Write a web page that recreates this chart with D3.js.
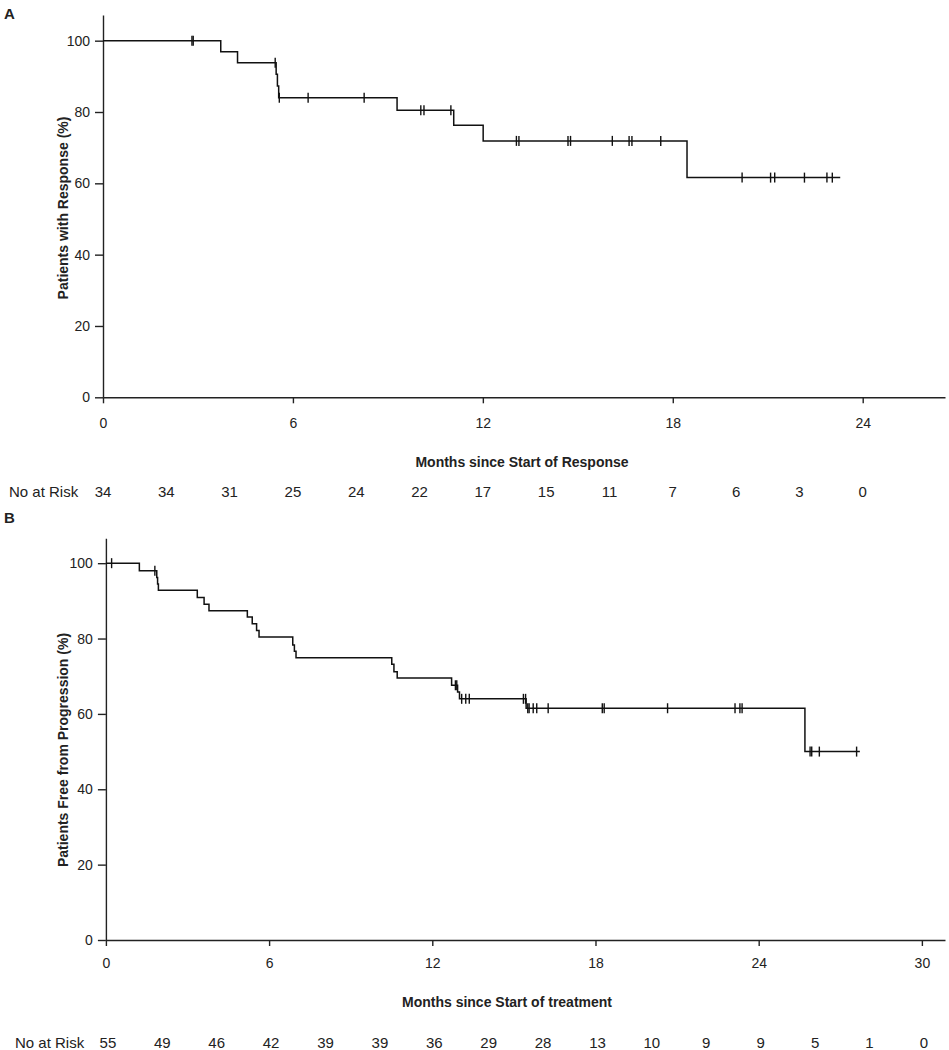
<!DOCTYPE html>
<html>
<head>
<meta charset="utf-8">
<script src="https://cdn.jsdelivr.net/npm/d3@7"></script>
<style>
  body { margin: 0; background: #fff; }
  svg text { font-family: "Liberation Sans", Arial, sans-serif; fill: #222; }
</style>
</head>
<body>
<div id="chart"></div>
<script>
// ---- data ----
// panel A : months since start of response
const respSteps = [[0, 100], [3.72, 96.9], [4.25, 93.8], [5.47, 90.6], [5.51, 87.3], [5.55, 84.0],
  [9.29, 80.5], [11.08, 76.3], [12.01, 71.9], [18.45, 61.6]];
const respEnd = 23.29;
const respCensor = [2.81, 2.85, 5.44, 5.57, 6.48, 8.25, 10.04, 10.14, 10.99, 13.06, 13.14, 14.69, 14.77,
  16.09, 16.62, 16.71, 17.62, 20.19, 21.09, 21.22, 22.16, 22.87, 23.04];
const respRiskTimes = [0, 2, 4, 6, 8, 10, 12, 14, 16, 18, 20, 22, 24];
const respRisk = [34, 34, 31, 25, 24, 22, 17, 15, 11, 7, 6, 3, 0];
const respXTicks = [0, 6, 12, 18, 24];

// panel B : months since start of treatment
const pfsSteps = [[0, 100], [1.23, 98.0], [1.87, 96.2], [1.9, 94.5], [1.93, 92.8], [3.36, 90.9], [3.61, 89.1],
  [3.79, 87.4], [5.2, 85.7], [5.38, 83.9], [5.54, 82.1], [5.63, 80.4], [6.87, 78.3], [6.93, 76.6], [6.99, 74.9],
  [10.51, 73.2], [10.59, 71.2], [10.71, 69.5], [12.71, 67.6], [12.93, 65.8], [13.0, 64.0], [15.45, 61.5],
  [25.7, 50.0]];
const pfsEnd = 27.72;
const pfsCensor = [0.21, 1.8, 12.85, 12.9, 13.08, 13.23, 13.36, 15.35, 15.43, 15.51, 15.56, 15.71, 15.84,
  16.26, 18.25, 18.32, 20.65, 23.13, 23.31, 23.39, 25.89, 25.95, 26.23, 27.6];
const pfsRiskTimes = [0, 2, 4, 6, 8, 10, 12, 14, 16, 18, 20, 22, 24, 26, 28, 30];
const pfsRisk = [55, 49, 46, 42, 39, 39, 36, 29, 28, 13, 10, 9, 9, 5, 1, 0];
const pfsXTicks = [0, 6, 12, 18, 24, 30];

const yTicks = [0, 20, 40, 60, 80, 100];

const svg = d3.select("#chart").append("svg")
    .attr("width", 949)
    .attr("height", 1050);

function survAt(steps, t) {
    let s = steps[0][1];
    steps.forEach(d => { if (d[0] <= t) s = d[1]; });
    return s;
}

function panel(cfg) {
    const x = d3.scaleLinear().domain(cfg.xDomain).range(cfg.xRange);
    const y = d3.scaleLinear().domain(cfg.yDomain).range(cfg.yRange);
    const g = svg.append("g");

    // axes
    const xAxis = g.append("g")
        .attr("transform", `translate(0,${y(0)})`)
        .call(d3.axisBottom(x).tickValues(cfg.xTicks).tickSize(6).tickSizeOuter(0).tickPadding(cfg.xPad));
    const yAxis = g.append("g")
        .attr("transform", `translate(${x(0)},0)`)
        .call(d3.axisLeft(y).tickValues(yTicks).tickSize(8).tickSizeOuter(0).tickPadding(5));
    [xAxis, yAxis].forEach(a => {
        a.selectAll("path, line").attr("stroke", "#222").attr("stroke-width", 1.4);
        a.selectAll("text").style("font-size", "14px").attr("fill", "#222");
    });

    // KM step curve
    const pts = cfg.steps.concat([[cfg.end, cfg.steps[cfg.steps.length - 1][1]]]);
    g.append("path")
        .datum(pts)
        .attr("fill", "none")
        .attr("stroke", "#111")
        .attr("stroke-width", 1.5)
        .attr("d", d3.line().x(d => x(d[0])).y(d => y(d[1])).curve(d3.curveStepAfter));

    // censor marks
    g.selectAll(".cens")
        .data(cfg.censor)
        .join("line")
        .attr("x1", d => x(d)).attr("x2", d => x(d))
        .attr("y1", d => y(survAt(cfg.steps, d)) - 5)
        .attr("y2", d => y(survAt(cfg.steps, d)) + 5)
        .attr("stroke", "#111")
        .attr("stroke-width", 1.4);

    // titles
    g.append("text")
        .attr("x", 4).attr("y", cfg.letterY)
        .style("font-size", "15px").style("font-weight", "bold")
        .text(cfg.letter);
    g.append("text")
        .attr("transform", `translate(68,${cfg.yTitleY}) rotate(-90)`)
        .attr("text-anchor", "middle")
        .style("font-size", "14px").style("font-weight", "bold")
        .text(cfg.yTitle);
    g.append("text")
        .attr("x", cfg.xTitleX).attr("y", cfg.xTitleY)
        .attr("text-anchor", "middle")
        .style("font-size", "14px").style("font-weight", "bold")
        .text(cfg.xTitle);

    // number at risk row
    g.append("text")
        .attr("x", cfg.riskLabelX).attr("y", cfg.riskY)
        .style("font-size", "15px")
        .text("No at Risk");
    g.selectAll(".risk")
        .data(cfg.riskTimes)
        .join("text")
        .attr("x", d => x(d) + cfg.riskShift)
        .attr("y", cfg.riskY)
        .attr("text-anchor", "middle")
        .style("font-size", "15px")
        .text((d, i) => cfg.risk[i]);
}

panel({
    letter: "A", letterY: 19,
    xDomain: [0, 26.6], xRange: [103, 945],
    yDomain: [0, 107.2], yRange: [397.3, 15],
    xTicks: respXTicks, xPad: 15,
    steps: respSteps, end: respEnd, censor: respCensor,
    yTitle: "Patients with Response (%)", yTitleY: 208,
    xTitle: "Months since Start of Response", xTitleX: 522, xTitleY: 467,
    riskTimes: respRiskTimes, risk: respRisk, riskY: 497, riskShift: 0, riskLabelX: 9
});

panel({
    letter: "B", letterY: 523,
    xDomain: [0, 30.85], xRange: [105.9, 945],
    yDomain: [0, 106.6], yRange: [940, 538.3],
    xTicks: pfsXTicks, xPad: 12,
    steps: pfsSteps, end: pfsEnd, censor: pfsCensor,
    yTitle: "Patients Free from Progression (%)", yTitleY: 750,
    xTitle: "Months since Start of treatment", xTitleX: 507, xTitleY: 1007,
    riskTimes: pfsRiskTimes, risk: pfsRisk, riskY: 1048, riskShift: 2, riskLabelX: 15
});
</script>
</body>
</html>
